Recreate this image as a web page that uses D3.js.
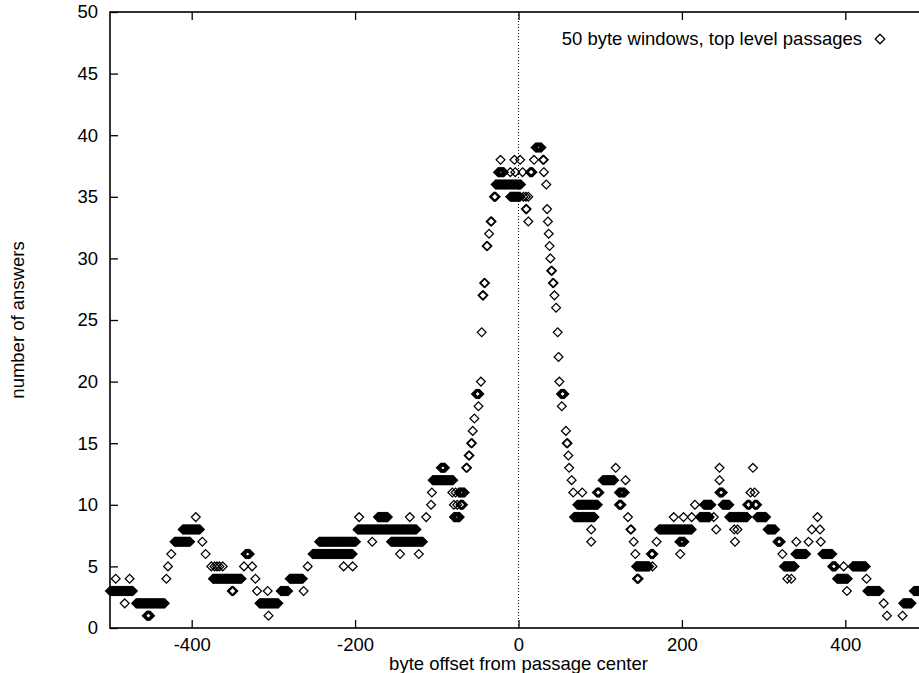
<!DOCTYPE html>
<html>
<head>
<meta charset="utf-8">
<script src="https://cdn.jsdelivr.net/npm/d3@7"></script>
<style>
	body { margin: 0; background: #fff; }
	svg { display: block; font-family: "Liberation Sans", Arial, sans-serif; }
</style>
</head>
<body>
<div id="chart"></div>
<script>
// runs of equal answer counts: byte offset from..to (inclusive) -> count
const offsetFrom = [
	-500, -493, -482, -476, -468, -455, -431, -429, -425, -421, -411, -395, -387, -383,
	-376, -372, -369, -366, -362, -374, -351, -336, -334, -326, -322, -320, -317, -307,
	-306, -291, -280, -263, -258, -252, -244, -214, -203, -197, -195, -179, -172, -156,
	-145, -133, -122, -113, -107, -106, -105, -95, -79, -79, -75, -71, -81, -77, -73,
	-64, -61, -58, -56, -54, -52, -49, -46, -45, -44, -42, -39, -36, -34, -30, -28,
	-25, -22, -10, -4, 5, -10, -5, 2, 6, 9, 12, 9, 12, 14, 19, 21, 30, 31, 34, 35, 36,
	37, 38, 39, 40, 42, 44, 46, 48, 49, 50, 52, 53, 58, 59, 61, 62, 65, 67, 68, 72, 78,
	89, 89, 96, 103, 119, 123, 123, 131, 134, 137, 141, 143, 144, 145, 162, 164, 169,
	172, 190, 197, 198, 202, 212, 216, 222, 227, 239, 242, 246, 246, 246, 250, 258, 264,
	268, 265, 280, 284, 289, 287, 289, 292, 305, 317, 323, 325, 329, 334, 340, 339, 355,
	359, 366, 369, 370, 372, 384, 390, 398, 402, 409, 426, 427, 447, 451, 470, 471, 484,
];
const offsetTo = [
	-472, -493, -482, -476, -433, -451, -431, -429, -425, -402, -390, -395, -387, -383,
	-376, -372, -369, -366, -362, -339, -349, -336, -329, -326, -322, -320, -294, -307,
	-306, -282, -264, -263, -258, -203, -199, -214, -203, -125, -195, -179, -160, -117,
	-145, -133, -122, -113, -107, -106, -80, -90, -72, -79, -75, -68, -81, -77, -66,
	-63, -60, -57, -56, -54, -48, -49, -46, -45, -43, -41, -38, -36, -33, -28, 3,
	-18, -22, -10, -4, 5, 2, -5, 2, 6, 9, 12, 10, 12, 17, 19, 28, 31, 31, 34, 35, 36,
	37, 38, 39, 41, 43, 44, 46, 48, 49, 50, 56, 53, 58, 60, 61, 62, 65, 67, 93, 97, 78,
	89, 89, 99, 117, 119, 126, 130, 131, 134, 138, 141, 143, 160, 147, 165, 164, 169,
	212, 190, 203, 198, 202, 212, 216, 234, 236, 239, 242, 246, 246, 250, 258, 280, 264,
	268, 265, 283, 284, 289, 287, 292, 303, 314, 321, 323, 338, 329, 334, 340, 352, 355,
	359, 366, 369, 370, 384, 388, 403, 398, 402, 425, 426, 442, 447, 451, 470, 481, 500,
];
const answers = [
	3, 4, 2, 4, 2, 1, 4, 5, 6, 7, 8, 9, 7, 6,
	5, 5, 5, 5, 5, 4, 3, 5, 6, 5, 4, 3, 2, 3,
	1, 3, 4, 3, 5, 6, 7, 5, 5, 8, 9, 7, 9, 7,
	6, 9, 6, 9, 10, 11, 12, 13, 9, 10, 10, 10, 11, 11, 11,
	13, 14, 15, 16, 17, 19, 18, 20, 24, 27, 28, 31, 32, 33, 35, 36,
	37, 38, 37, 37, 37, 35, 38, 38, 35, 35, 35, 34, 33, 37, 38, 39, 38, 37, 36, 34, 33,
	32, 31, 30, 29, 28, 27, 26, 24, 22, 20, 19, 18, 16, 15, 14, 13, 12, 11, 9, 10, 11,
	8, 7, 11, 12, 13, 10, 11, 12, 9, 8, 7, 6, 5, 4, 6, 5, 7,
	8, 9, 7, 6, 9, 9, 10, 9, 10, 9, 8, 12, 13, 11, 10, 9, 8,
	8, 7, 10, 11, 11, 13, 10, 9, 8, 7, 6, 5, 4, 4, 7, 6, 7,
	8, 9, 8, 7, 6, 5, 4, 5, 3, 5, 4, 3, 2, 1, 1, 2, 3,
];
const xTicks = [-400, -200, 0, 200, 400];
const yTicks = [0, 5, 10, 15, 20, 25, 30, 35, 40, 45, 50];
const seriesLabel = "50 byte windows, top level passages";

const width = 919, height = 673;
const margin = { left: 110, right: 927, top: 12, bottom: 628 };
const fontSize = "18.5px";

let points = [];
answers.forEach((v, i) => {
	for (let x = offsetFrom[i]; x <= offsetTo[i]; x++) points.push([x, v]);
});

const xScale = d3.scaleLinear().domain([-500, 500]).range([margin.left, margin.right]);
const yScale = d3.scaleLinear().domain([0, 50]).range([margin.bottom, margin.top]);

const diamond = (r) => `M0,${-r}L${r},0L0,${r}L${-r},0Z`;

const svg = d3.select("#chart")
	.append("svg")
	.attr("width", width)
	.attr("height", height);

// zero axis
svg.append("line")
	.attr("x1", xScale(0))
	.attr("x2", xScale(0))
	.attr("y1", margin.top)
	.attr("y2", margin.bottom)
	.attr("stroke", "#000")
	.attr("stroke-width", 1)
	.attr("stroke-dasharray", "1,2");

svg.append("g")
	.selectAll("path")
	.data(points)
	.enter()
	.append("path")
	.attr("transform", (d) => `translate(${xScale(d[0])},${yScale(d[1])})`)
	.attr("d", diamond(4.4))
	.attr("fill", "none")
	.attr("stroke", "#000")
	.attr("stroke-width", 1.25);

const styleAxis = (g, labels) => {
	g.select(".domain").remove();
	g.selectAll(".tick line").attr("stroke", "#000").attr("stroke-width", 1.3);
	g.selectAll(".tick text")
		.attr("fill", labels ? "#000" : "none")
		.style("font-size", fontSize)
		.style("font-family", "'Liberation Sans', Arial, sans-serif");
};

const plain = (d) => String(d);

svg.append("g")
	.attr("transform", `translate(0,${margin.bottom})`)
	.call(d3.axisBottom(xScale).tickValues(xTicks).tickFormat(plain).tickSize(-8).tickPadding(10))
	.call((g) => styleAxis(g, true));

svg.append("g")
	.attr("transform", `translate(0,${margin.top})`)
	.call(d3.axisTop(xScale).tickValues(xTicks).tickSize(-8).tickFormat(""))
	.call((g) => styleAxis(g, false));

svg.append("g")
	.attr("transform", `translate(${margin.left},0)`)
	.call(d3.axisLeft(yScale).tickValues(yTicks).tickFormat(plain).tickSize(-8).tickPadding(12))
	.call((g) => styleAxis(g, true));

svg.append("g")
	.attr("transform", `translate(${margin.right},0)`)
	.call(d3.axisRight(yScale).tickValues(yTicks).tickSize(-8).tickFormat(""))
	.call((g) => styleAxis(g, false));

svg.append("rect")
	.attr("x", margin.left)
	.attr("y", margin.top)
	.attr("width", margin.right - margin.left)
	.attr("height", margin.bottom - margin.top)
	.attr("fill", "none")
	.attr("stroke", "#000")
	.attr("stroke-width", 1.6);

svg.append("text")
	.attr("x", (margin.left + margin.right) / 2)
	.attr("y", 670)
	.attr("text-anchor", "middle")
	.style("font-size", fontSize)
	.text("byte offset from passage center");

svg.append("text")
	.attr("transform", `translate(24,${(margin.top + margin.bottom) / 2}) rotate(-90)`)
	.attr("text-anchor", "middle")
	.style("font-size", fontSize)
	.text("number of answers");

// legend
svg.append("text")
	.attr("x", 862)
	.attr("y", 45)
	.attr("text-anchor", "end")
	.style("font-size", fontSize)
	.text(seriesLabel);

svg.append("path")
	.attr("transform", "translate(880,39)")
	.attr("d", diamond(4.8))
	.attr("fill", "none")
	.attr("stroke", "#000")
	.attr("stroke-width", 1.25);
</script>
</body>
</html>
